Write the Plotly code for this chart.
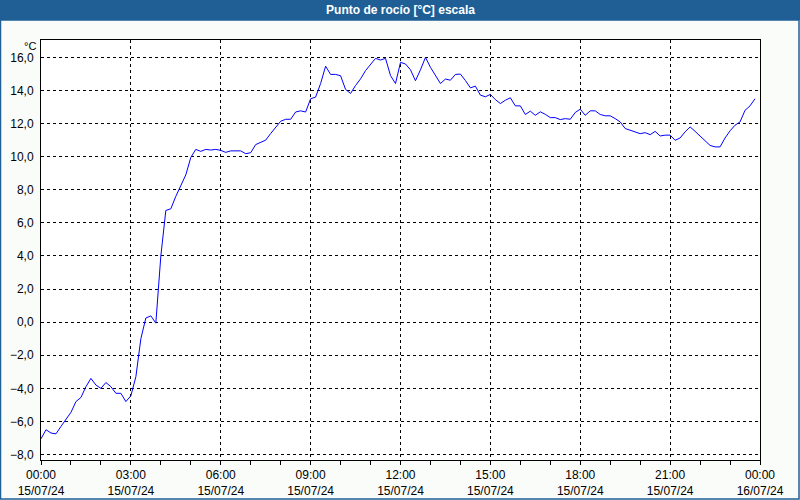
import plotly.graph_objects as go
import pandas as pd

# ---- data (dew point, 10-minute samples, 15/07/24 00:00 onward) ----
start_time = "2024-07-15 00:00"
interval_minutes = 10
dew_point = [
    -7.05, -6.5, -6.7, -6.75, -6.3, -5.9, -5.45, -4.8, -4.55, -3.9,
    -3.4, -3.8, -4.0, -3.65, -3.9, -4.3, -4.3, -4.8, -4.45, -3.3,
    -1.0, 0.25, 0.38, -0.06, 4.0, 6.75, 6.85, 7.6, 8.25, 8.9,
    9.95, 10.44, 10.32, 10.44, 10.4, 10.44, 10.38, 10.26, 10.35, 10.35,
    10.35, 10.18, 10.24, 10.73, 10.85, 11.0, 11.4, 11.8, 12.14, 12.26,
    12.26, 12.7, 12.77, 12.7, 13.5, 13.6, 14.42, 15.47, 14.97, 14.97,
    14.89, 14.06, 13.82, 14.3, 14.7, 15.2, 15.6, 15.94, 15.84, 15.94,
    14.9, 14.42, 15.7, 15.6, 15.25, 14.59, 15.25, 16.0, 15.4, 14.95,
    14.42, 14.69, 14.62, 14.97, 14.99, 14.6, 14.16, 14.26, 13.72, 13.62,
    13.76, 13.45, 13.21, 13.41, 13.56, 13.07, 13.07, 12.55, 12.75, 12.5,
    12.71, 12.56, 12.36, 12.36, 12.24, 12.3, 12.26, 12.67, 12.87, 12.5,
    12.77, 12.77, 12.55, 12.47, 12.47, 12.3, 12.1, 11.7, 11.59, 11.5,
    11.39, 11.45, 11.33, 11.53, 11.25, 11.3, 11.3, 10.99, 11.13, 11.5,
    11.8, 11.53, 11.25, 10.99, 10.68, 10.59, 10.59, 11.13, 11.56, 11.9,
    12.1, 12.8, 13.07, 13.5,
]
x_tick_values = [
    "2024-07-15 00:00", "2024-07-15 03:00", "2024-07-15 06:00",
    "2024-07-15 09:00", "2024-07-15 12:00", "2024-07-15 15:00",
    "2024-07-15 18:00", "2024-07-15 21:00", "2024-07-16 00:00",
]
x_tick_labels = [
    "00:00<br>15/07/24", "03:00<br>15/07/24", "06:00<br>15/07/24",
    "09:00<br>15/07/24", "12:00<br>15/07/24", "15:00<br>15/07/24",
    "18:00<br>15/07/24", "21:00<br>15/07/24", "00:00<br>16/07/24",
]
title_text = "Punto de rocío [°C] escala"
unit_text = "°C"

times = pd.date_range(start=start_time, periods=len(dew_point),
                      freq=f"{interval_minutes}min")

W, H = 800, 500
L, R, T, B = 41, 40, 40, 40
pw, ph = W - L - R, H - T - B


def px_x(p):
    return (p - L) / pw


def px_y(p):
    return 1 - (p - T) / ph


FONT = "Liberation Sans, Arial, sans-serif"

fig = go.Figure()
fig.add_trace(go.Scatter(
    x=times, y=dew_point, mode="lines",
    line=dict(color="#0000FF", width=1), showlegend=False,
))

grid = dict(showgrid=True, gridcolor="black", gridwidth=1, griddash="3px,3px")

fig.update_layout(
    width=W, height=H,
    margin=dict(l=L, r=R, t=T, b=B, pad=0),
    paper_bgcolor="#FAFCFA",
    plot_bgcolor="#FFFFFF",
    separators=",.",
    font=dict(family=FONT, size=11, color="#000000"),
    title=dict(text="<b>" + title_text + "</b>", x=0.5, xanchor="center",
               xref="paper", y=1 - 10 / H, yanchor="middle", yref="container",
               font=dict(family=FONT, size=12, color="#FFFFFF")),
    xaxis=dict(
        type="date", automargin=False,
        range=["2024-07-15 00:00", "2024-07-16 00:00"],
        tickmode="array", tickvals=x_tick_values, ticktext=x_tick_labels,
        ticks="outside", ticklen=4, tickcolor="black", tickwidth=1,
        minor=dict(dtick=3600000, ticks="outside", ticklen=4,
                   tickcolor="black", showgrid=False),
        showline=True, linecolor="black", linewidth=1, mirror=True,
        zeroline=False, tickfont=dict(family=FONT, size=12, color="#000"),
        **grid,
    ),
    yaxis=dict(
        automargin=False,
        range=[-8.33, 17.05], dtick=2, tick0=0, tickformat=".1f",
        ticks="", ticklabelstandoff=4,
        showline=True, linecolor="black", linewidth=1, mirror=True,
        zeroline=False, tickfont=dict(family=FONT, size=12, color="#000"),
        **grid,
    ),
    shapes=[
        dict(type="rect", xref="paper", yref="paper",
             x0=px_x(0), x1=px_x(W), y0=px_y(0), y1=px_y(20),
             fillcolor="#1F5F96", line=dict(width=0), layer="below"),
        dict(type="rect", xref="paper", yref="paper",
             x0=px_x(0.5), x1=px_x(W - 1), y0=px_y(20), y1=px_y(H - 1),
             fillcolor="rgba(0,0,0,0)", line=dict(color="#1F5F96", width=1.5)),
    ],
    annotations=[
        dict(text=unit_text, xref="paper", yref="paper",
             x=px_x(38), y=px_y(46), xanchor="right", yanchor="middle",
             showarrow=False, font=dict(family=FONT, size=11, color="#000")),
    ],
)

fig.write_html("out.html")
